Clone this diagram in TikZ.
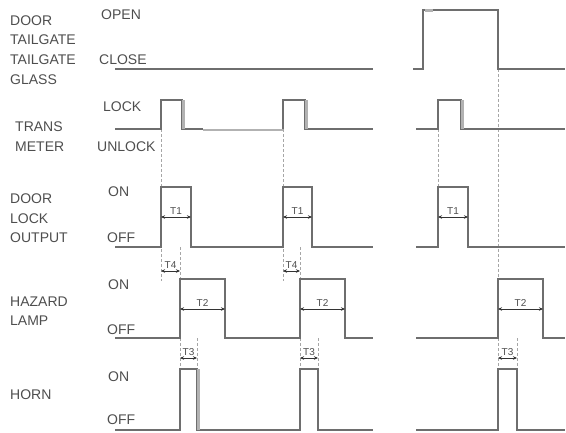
\documentclass[tikz,border=0pt]{standalone}
\usepackage{fontspec}
\setmainfont{Liberation Sans}
\usetikzlibrary{arrows.meta}

\definecolor{wavegray}{HTML}{6E6E6E}
\definecolor{lightwave}{HTML}{B2B2B2}
\definecolor{txtgray}{HTML}{4E4E4E}

\begin{document}
\begin{tikzpicture}[x=1pt, y=-1pt,
    wave/.style={draw=wavegray, line width=1.3pt},
    glow/.style={draw=lightwave, line width=2.4pt},
    guide/.style={draw=black!35, line width=0.6pt, dash pattern=on 3pt off 2pt},
    dim/.style={{Stealth[length=4pt,width=3.5pt]}-{Stealth[length=4pt,width=3.5pt]}, line width=0.6pt, draw=black!80},
    sig/.style={anchor=west, inner sep=0pt, text=txtgray, font=\fontsize{14}{14}\selectfont},
    tlbl/.style={above, inner sep=2.5pt, text=txtgray, font=\fontsize{10}{10}\selectfont}]

  \useasboundingbox (0,0) rectangle (566,432);

  % --- Signal names ---
  \node[sig] (door1)  at (10,21)  {DOOR};
  \node[sig] (tail1)  at (10,40)  {TAILGATE};
  \node[sig] (tail2)  at (10,60)  {TAILGATE};
  \node[sig] (glass)  at (10,80)  {GLASS};
  \node[sig] (trans)  at (15,127) {TRANS};
  \node[sig] (meter)  at (15,147) {METER};
  \node[sig] (door2)  at (10,199) {DOOR};
  \node[sig] (lock2)  at (10,219) {LOCK};
  \node[sig] (output) at (10,238) {OUTPUT};
  \node[sig] (hazard) at (10,302) {HAZARD};
  \node[sig] (lamp)   at (10,321) {LAMP};
  \node[sig] (horn)   at (10,395) {HORN};

  % --- Levels ---
  \node[sig] (open)   at (101,15)  {OPEN};
  \node[sig] (close)  at (99,60)   {CLOSE};
  \node[sig] (lock)   at (103,107) {LOCK};
  \node[sig] (unlock) at (97,147)  {UNLOCK};
  \node[sig] (on1)    at (108,192) {ON};
  \node[sig] (off1)   at (107,238) {OFF};
  \node[sig] (on2)    at (108,285) {ON};
  \node[sig] (off2)   at (107,330) {OFF};
  \node[sig] (on3)    at (108,377) {ON};
  \node[sig] (off3)   at (107,420) {OFF};

  % --- Guide lines ---
  \foreach \x/\a/\b in {161/129/281, 283/129/281, 438/129/187, 498/69/279,
                        180/247/279, 300/247/279,
                        180/338/369, 197/338/369, 300/338/369, 318/338/369,
                        498/338/369, 517/338/369}
     \draw[guide] (\x,\a) -- (\x,\b);

  % --- Door / tailgate ---
  \draw[wave] (115,69) -- (373,69);
  \draw[wave] (413,69) -- (423,69) -- (423,10) -- (498,10) -- (498,69) -- (565,69);
  \draw[glow] (425,10.5) -- (433,10.5);

  % --- Trans meter ---
  \draw[wave] (115,129) -- (161,129) -- (161,100) -- (182,100) -- (182,129) -- (203,129);
  \draw[glow] (183.5,100) -- (183.5,129);
  \draw[glow] (203,130) -- (283,130);
  \draw[wave] (283,129) -- (283,100) -- (305,100) -- (305,129) -- (373,129);
  \draw[glow] (306.5,100) -- (306.5,129);
  \draw[wave] (416,129) -- (438,129) -- (438,100) -- (461,100) -- (461,129) -- (565,129);
  \draw[glow] (462.5,100) -- (462.5,129);

  % --- Door lock output ---
  \draw[wave] (115,247) -- (161,247) -- (161,187) -- (191,187) -- (191,247)
              -- (283,247) -- (283,187) -- (312,187) -- (312,247) -- (373,247);
  \draw[wave] (416,247) -- (438,247) -- (438,187) -- (468,187) -- (468,247) -- (565,247);

  % --- Hazard lamp ---
  \draw[wave] (115,338) -- (180,338) -- (180,279) -- (225,279) -- (225,338)
              -- (300,338) -- (300,279) -- (345,279) -- (345,338) -- (373,338);
  \draw[wave] (416,338) -- (498,338) -- (498,279) -- (543,279) -- (543,338) -- (565,338);

  % --- Horn ---
  \draw[wave] (115,430) -- (180,430) -- (180,369) -- (197,369) -- (197,430)
              -- (300,430) -- (300,369) -- (318,369) -- (318,430) -- (373,430);
  \draw[glow] (198.5,369) -- (198.5,430);
  \draw[wave] (416,430) -- (498,430) -- (498,369) -- (517,369) -- (517,430) -- (565,430);

  % --- Times ---
  \foreach \a/\b/\y/\t in {161/191/217/T1, 283/312/217/T1, 438/468/217/T1,
                           161/180/271/T4, 283/300/271/T4,
                           180/225/309/T2, 300/345/309/T2, 498/543/309/T2,
                           180/197/358/T3, 300/318/358/T3, 498/517/358/T3}
     \draw[dim] (\a,\y) -- node[tlbl] (\t-\a) {\t} (\b,\y);

\end{tikzpicture}
\end{document}
